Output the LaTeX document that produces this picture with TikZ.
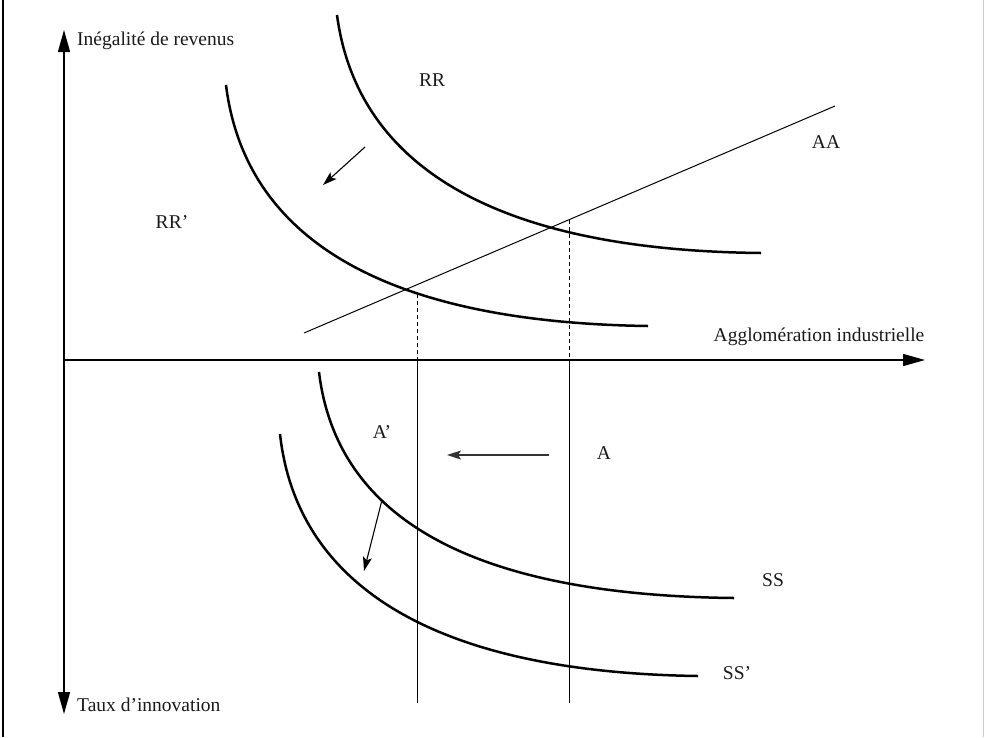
\documentclass[tikz,border=0pt]{standalone}
\usepackage{fontspec}
\setmainfont{Liberation Serif}
\usetikzlibrary{arrows.meta}
\begin{document}
\begin{tikzpicture}[x=1pt,y=-1pt,
  lbl/.style={font=\fontsize{19.5}{22}\selectfont, inner sep=0pt, text=black!90},
  axisline/.style={line width=1.4pt, -{Triangle[length=22pt,width=12pt]}},
  curveline/.style={line width=2.5pt},
  thinline/.style={line width=1pt},
  dashline/.style={line width=1pt, dash pattern=on 4pt off 3pt},
  shiftarrow/.style={line width=1.1pt, -{Stealth[length=14pt,width=9pt,inset=3pt]}},
  ]
\useasboundingbox (0,0) rectangle (984,737);
% frame
\draw[line width=1.5pt] (3,0) -- (3,737);
\draw[black!20, line width=1pt] (983,0) -- (983,737);

% axes
\coordinate (O) at (64,360);
\coordinate (ytop) at (64,30);
\coordinate (ybot) at (64,714);
\coordinate (xend) at (925,360);
\draw[axisline] (O) -- (ytop);
\draw[axisline] (O) -- (ybot);
\draw[axisline] (O) -- (xend);

\node[lbl, anchor=west] (ylab) at (77,41) {Inégalité de revenus};
\node[lbl, anchor=west] (tlab) at (77,705) {Taux d’innovation};
\node[lbl] (xlab) at (819,337) {Agglomération industrielle};

% AA line
\coordinate (aa1) at (304,333);
\coordinate (aa2) at (835,106);
\draw[thinline] (aa1) -- (aa2);
\node[lbl] (aalab) at (826,142) {AA};

% RR curves
\draw[curveline] (337,15) .. controls (355,150) and (470,250) .. (761,253);
\draw[curveline] (226,85) .. controls (243,222) and (358,322) .. (648,326);
\node[lbl] (rrlab) at (432,80) {RR};
\node[lbl] (rrplab) at (172,222) {RR’};

\coordinate (s1) at (365,147);
\coordinate (s2) at (323,185);
\draw[shiftarrow] (s1) -- (s2);

% dashed projections
\coordinate (dA1) at (417,294);
\coordinate (dA2) at (417,360);
\coordinate (dB1) at (569,220);
\coordinate (dB2) at (569,360);
\draw[dashline] (dA1) -- (dA2);
\draw[dashline] (dB1) -- (dB2);

% vertical lines below
\coordinate (vA) at (417,703);
\coordinate (vB) at (569,703);
\draw[thinline] (dA2) -- (vA);
\draw[thinline] (dB2) -- (vB);

% SS curves
\draw[curveline] (319,372) .. controls (335,505) and (450,595) .. (734,598);
\draw[curveline] (280,434) .. controls (295,570) and (410,672) .. (698,676);
\node[lbl] (sslab) at (773,580) {SS};
\node[lbl] (ssplab) at (737,673) {SS’};

\node[lbl] (aplab) at (382,432) {A’};
\node[lbl] (alab) at (604,453) {A};

\coordinate (h1) at (549,455);
\coordinate (h2) at (447,455);
\draw[shiftarrow, line width=1.5pt, black!80] (h1) -- (h2);

\coordinate (t1) at (382,500);
\coordinate (t2) at (364,571);
\draw[shiftarrow] (t1) -- (t2);
\end{tikzpicture}
\end{document}
